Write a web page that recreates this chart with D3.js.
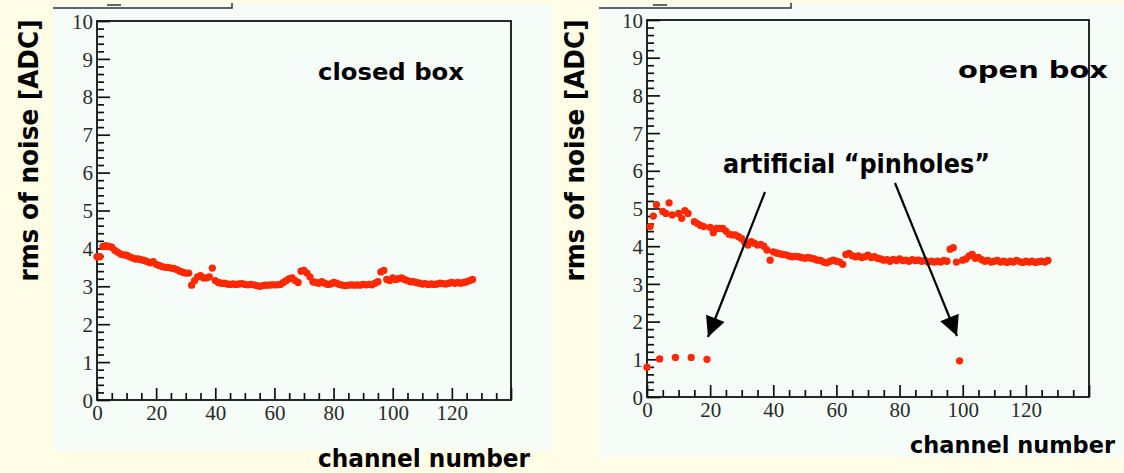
<!DOCTYPE html>
<html>
<head>
<meta charset="utf-8">
<script src="https://cdn.jsdelivr.net/npm/d3@7"></script>
<style>
  html, body { margin: 0; padding: 0; background: #fffde5; }
  svg { display: block; }
</style>
</head>
<body>
<svg id="chart" width="1124" height="473"></svg>
<script>
// ---------------- DATA ----------------
const channels = d3.range(128);
const closedBox = [
  3.78,3.78,4.05,4.07,4.05,4.03,3.95,3.90,3.85,3.83,
  3.82,3.78,3.75,3.72,3.72,3.70,3.68,3.65,3.62,3.65,
  3.58,3.55,3.52,3.50,3.50,3.48,3.47,3.44,3.40,3.37,
  3.35,3.35,3.03,3.15,3.25,3.28,3.22,3.22,3.25,3.48,
  3.15,3.10,3.08,3.08,3.06,3.05,3.06,3.05,3.06,3.07,
  3.05,3.04,3.05,3.04,3.02,3.00,3.02,3.03,3.03,3.04,
  3.04,3.04,3.05,3.10,3.15,3.20,3.22,3.15,3.10,3.40,
  3.42,3.35,3.25,3.12,3.10,3.08,3.12,3.08,3.05,3.06,
  3.10,3.08,3.05,3.03,3.02,3.03,3.04,3.03,3.04,3.03,
  3.05,3.04,3.05,3.04,3.08,3.12,3.38,3.42,3.18,3.15,
  3.22,3.18,3.20,3.22,3.18,3.15,3.12,3.12,3.10,3.08,
  3.06,3.07,3.05,3.06,3.05,3.06,3.08,3.07,3.06,3.08,
  3.10,3.08,3.10,3.08,3.10,3.12,3.15,3.18
];
const openBox = [
  0.79,4.52,4.80,5.10,1.01,4.92,4.87,5.15,4.83,1.05,
  4.87,4.74,4.94,4.87,1.05,4.65,4.60,4.55,4.52,1.00,
  4.50,4.36,4.47,4.47,4.47,4.40,4.32,4.30,4.30,4.25,
  4.20,4.10,4.03,4.12,4.08,4.03,4.05,4.00,3.90,3.63,
  3.85,3.82,3.80,3.78,3.77,3.74,3.72,3.73,3.72,3.70,
  3.68,3.70,3.68,3.66,3.63,3.62,3.58,3.56,3.60,3.63,
  3.60,3.58,3.52,3.78,3.81,3.75,3.72,3.74,3.70,3.72,
  3.76,3.70,3.72,3.68,3.66,3.63,3.64,3.60,3.65,3.62,
  3.66,3.62,3.63,3.60,3.64,3.62,3.63,3.60,3.62,3.58,
  3.60,3.58,3.60,3.58,3.62,3.60,3.92,3.96,3.58,0.96,
  3.63,3.66,3.74,3.78,3.68,3.70,3.64,3.60,3.62,3.58,
  3.60,3.62,3.58,3.60,3.57,3.60,3.58,3.62,3.59,3.57,
  3.60,3.58,3.60,3.57,3.59,3.60,3.58,3.62
];
const xMajorTicks = [0,20,40,60,80,100,120,140];
const xTickLabels = ["0","20","40","60","80","100","120",""];
const yMajorTicks = [0,1,2,3,4,5,6,7,8,9,10];
const yTickLabels = ["0","1","2","3","4","5","6","7","8","9","10"];
const yTitle = "rms of noise [ADC]";
const xTitle = "channel number";
const panelLabels = ["closed box", "open box"];
const annotation = "artificial \u201cpinholes\u201d";

// ---------------- LAYOUT ----------------
const svg = d3.select("#chart");
const TITLE_FONT = "'DejaVu Sans', 'Noto Sans', sans-serif";
const TICK_FONT = "'Liberation Serif', 'DejaVu Serif', serif";

const panels = [
  { values: closedBox, bg: [53, 4, 500, 446], x0: 97, x1: 511, y0: 400, y1: 21,
    titleBox: [53, 232], ytitleX: 38, xtitle: [318, 467, 212, 24],
    label: panelLabels[0], labelPos: [318, 80, 146] },
  { values: openBox, bg: [599, 4, 525, 453], x0: 647, x1: 1089, y0: 397, y1: 20,
    titleBox: [599, 791], ytitleX: 584, xtitle: [910, 453, 205, 22.5],
    label: panelLabels[1], labelPos: [958, 78, 150] }
];

const minorX = d3.range(0, 141, 5).filter(v => v % 20 !== 0);
const minorY = d3.range(0, 50).map(i => i / 5).filter(v => Math.abs(v - Math.round(v)) > 1e-6);

panels.forEach((p, pi) => {
  svg.append("rect").attr("x", p.bg[0]).attr("y", p.bg[1])
    .attr("width", p.bg[2]).attr("height", p.bg[3]).attr("fill", "#f6fdf9");
  svg.append("path")
    .attr("d", `M${p.titleBox[0]},8 H${p.titleBox[1]} V3`)
    .attr("fill", "none").attr("stroke", "#333").attr("stroke-width", 1.5);
  svg.append("line").attr("x1", p.titleBox[0] + 54).attr("x2", p.titleBox[0] + 68)
    .attr("y1", 5).attr("y2", 5).attr("stroke", "#333").attr("stroke-width", 1.5);

  const x = d3.scaleLinear().domain([0, 140]).range([p.x0, p.x1]);
  const y = d3.scaleLinear().domain([0, 10]).range([p.y0, p.y1]);

  svg.append("rect").attr("x", p.x0).attr("y", p.y1)
    .attr("width", p.x1 - p.x0).attr("height", p.y0 - p.y1)
    .attr("fill", "none").attr("stroke", "#111").attr("stroke-width", 1.8);

  const gxm = svg.append("g").attr("transform", `translate(0,${p.y0})`)
    .call(d3.axisBottom(x).tickValues(minorX).tickSize(-7).tickFormat(""));
  const gx = svg.append("g").attr("transform", `translate(0,${p.y0})`)
    .call(d3.axisBottom(x).tickValues(xMajorTicks).tickSize(-12).tickPadding(5)
      .tickFormat((d, i) => xTickLabels[i]));
  const gym = svg.append("g").attr("transform", `translate(${p.x0},0)`)
    .call(d3.axisLeft(y).tickValues(minorY).tickSize(-7).tickFormat(""));
  const gy = svg.append("g").attr("transform", `translate(${p.x0},0)`)
    .call(d3.axisLeft(y).tickValues(yMajorTicks).tickSize(-13).tickPadding(4)
      .tickFormat((d, i) => yTickLabels[i]));

  [gxm, gx, gym, gy].forEach(g => {
    g.attr("font-family", null).attr("font-size", null);
    g.select(".domain").remove();
    g.selectAll(".tick line").attr("stroke", "#111").attr("stroke-width", 1.7);
    g.selectAll(".tick text").attr("fill", "#2a2a2a")
      .attr("font-family", TICK_FONT).attr("font-size", 21);
  });
  gy.selectAll(".tick text").attr("dy", "0.34em");

  svg.append("g").selectAll("path")
    .data(channels.map((c, i) => [c, p.values[i]]))
    .join("path")
    .attr("transform", d => `translate(${x(d[0])},${y(d[1])})`)
    .attr("d", d3.symbol(d3.symbolCircle, 42)())
    .attr("fill", "#ff2800");

  svg.append("text")
    .attr("transform", `translate(${p.ytitleX},150.5) rotate(-90)`)
    .attr("text-anchor", "middle")
    .attr("textLength", 262).attr("lengthAdjust", "spacingAndGlyphs")
    .attr("font-family", TITLE_FONT).attr("font-weight", "bold").attr("font-size", 26)
    .attr("fill", "#000").text(yTitle);

  svg.append("text")
    .attr("x", p.xtitle[0]).attr("y", p.xtitle[1])
    .attr("textLength", p.xtitle[2]).attr("lengthAdjust", "spacingAndGlyphs")
    .attr("font-family", TITLE_FONT).attr("font-weight", "bold").attr("font-size", p.xtitle[3])
    .attr("fill", "#000").text(xTitle);

  svg.append("text")
    .attr("x", p.labelPos[0]).attr("y", p.labelPos[1])
    .attr("textLength", p.labelPos[2]).attr("lengthAdjust", "spacingAndGlyphs")
    .attr("font-family", TITLE_FONT).attr("font-weight", "bold").attr("font-size", 23)
    .attr("fill", "#000").text(p.label);

  if (pi === 1) {
    svg.append("text")
      .attr("x", 723).attr("y", 173)
      .attr("textLength", 267).attr("lengthAdjust", "spacingAndGlyphs")
      .attr("font-family", TITLE_FONT).attr("font-weight", "bold").attr("font-size", 26)
      .attr("fill", "#000").text(annotation);

    const defs = svg.append("defs");
    defs.append("marker").attr("id", "ah")
      .attr("viewBox", "0 0 10 10").attr("refX", 10).attr("refY", 5)
      .attr("markerUnits", "userSpaceOnUse")
      .attr("orient", "auto")
      .attr("markerWidth", 24).attr("markerHeight", 20)
      .append("path").attr("d", "M0,0 L10,5 L0,10 Z").attr("fill", "#000");

    [[765, 192, 708, 337], [895, 183, 957, 336]].forEach(a => {
      svg.append("line").attr("x1", a[0]).attr("y1", a[1]).attr("x2", a[2]).attr("y2", a[3])
        .attr("stroke", "#000").attr("stroke-width", 2.2).attr("marker-end", "url(#ah)");
    });
  }
});
</script>
</body>
</html>
